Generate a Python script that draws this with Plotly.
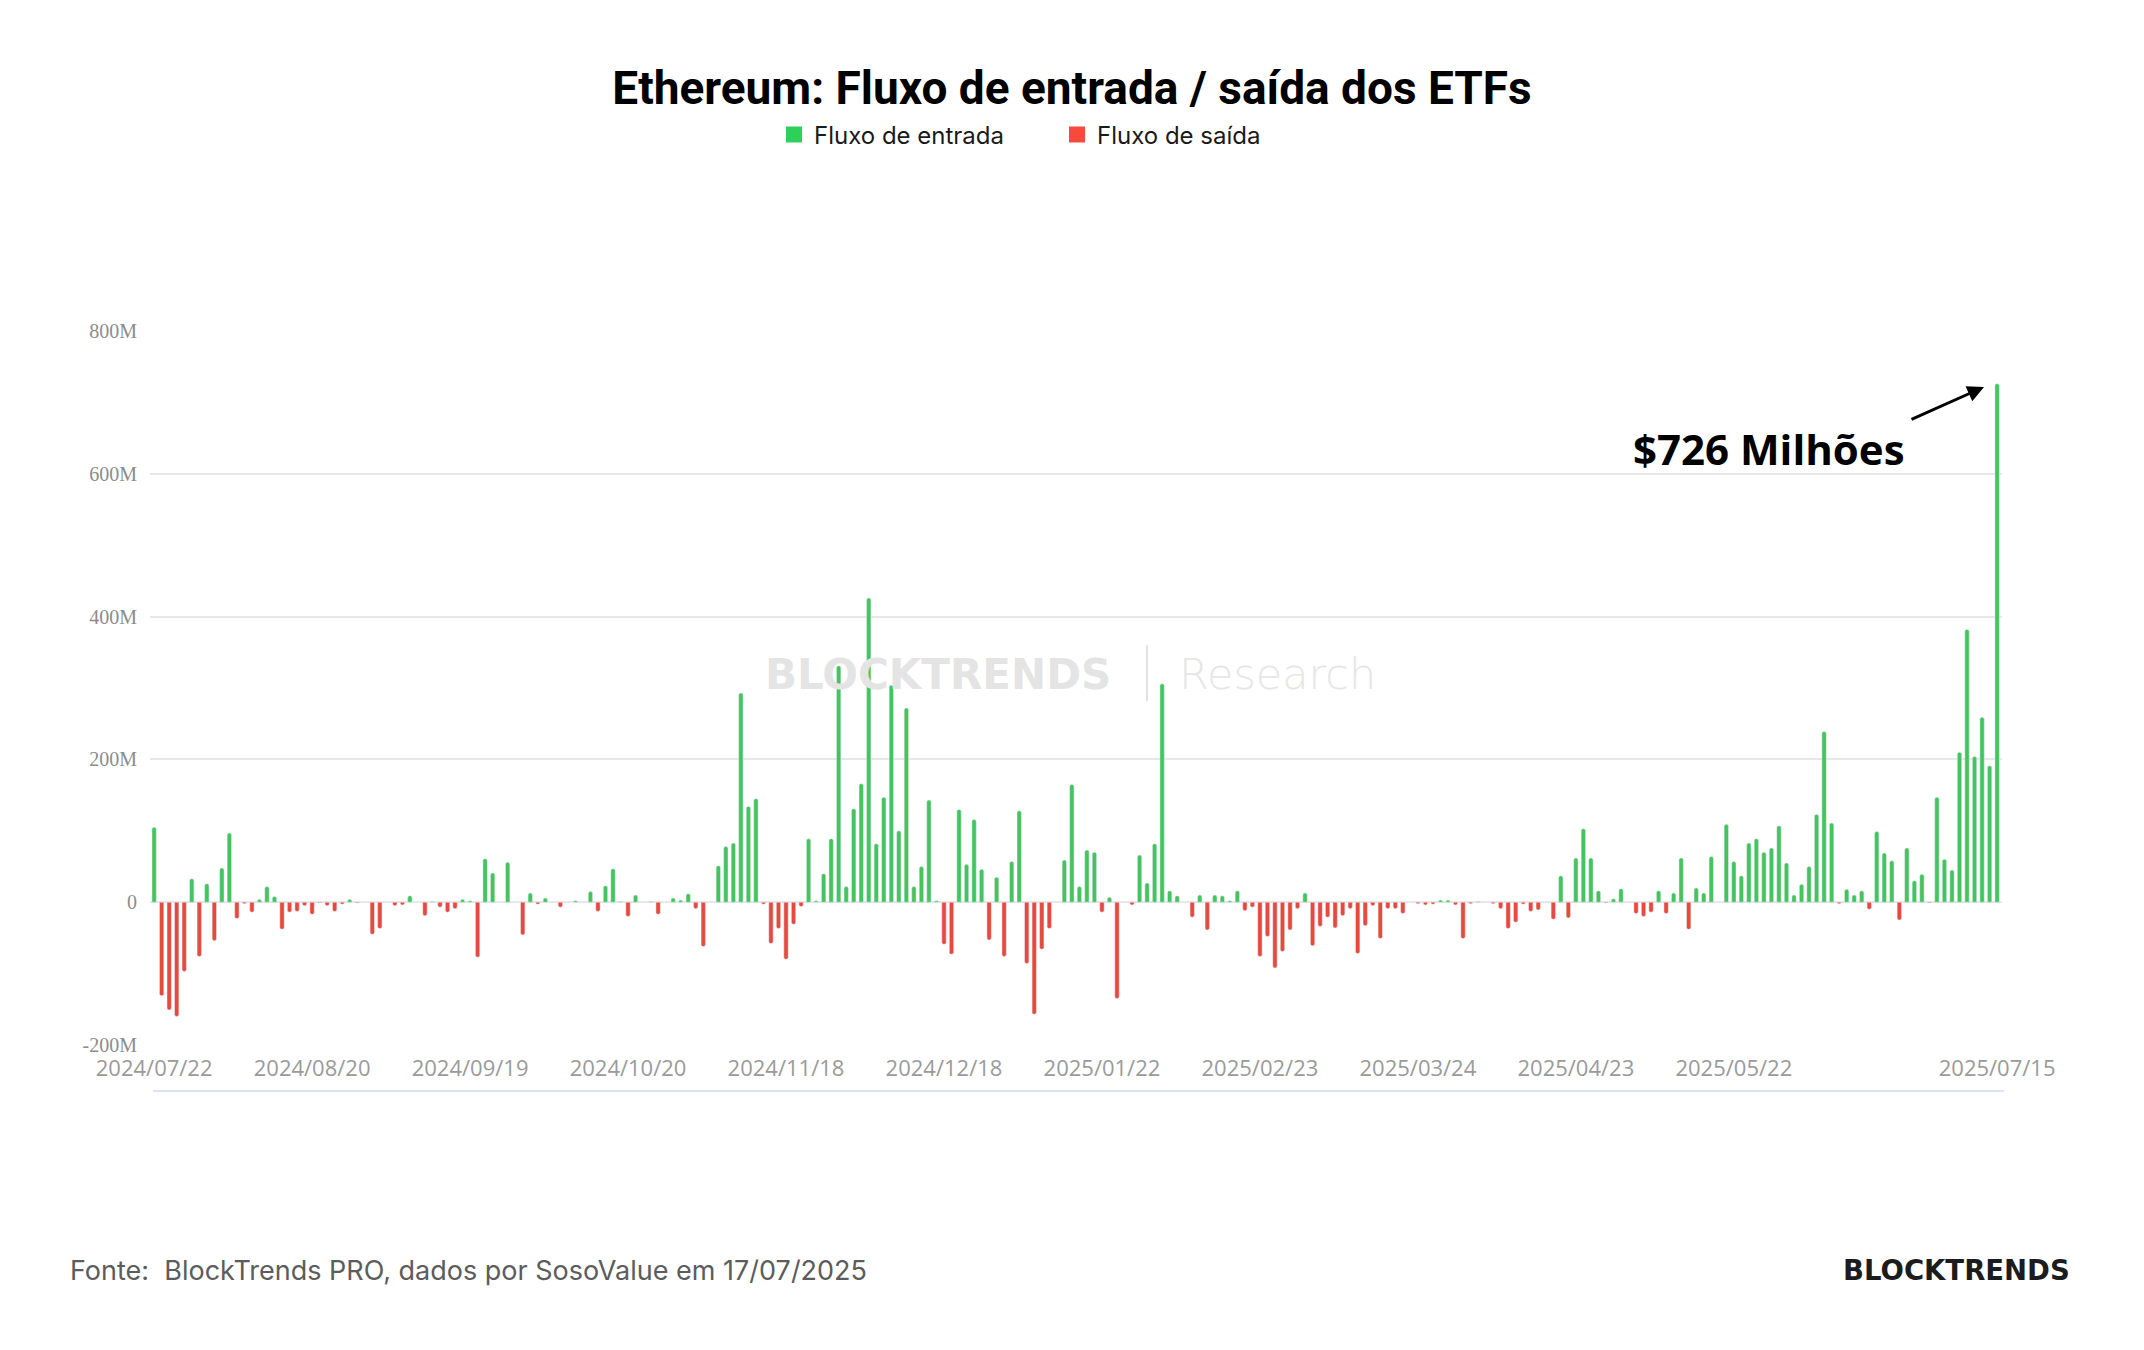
import pandas as pd
import plotly.graph_objects as go

# ---------------- data ----------------
TITLE = "Ethereum: Fluxo de entrada / saída dos ETFs"
SERIES_IN = "Fluxo de entrada"
SERIES_OUT = "Fluxo de saída"
SOURCE = "Fonte:  BlockTrends PRO, dados por SosoValue em 17/07/2025"
BRAND = "BLOCKTRENDS"
WATERMARK_SUB = "Research"
HIGHLIGHT = "$726 Milhões"

FIRST_DAY = "2024-07-23"
LAST_DAY = "2025-07-16"
HOLIDAYS = ["2024-09-02", "2024-11-28", "2024-12-25", "2025-01-01", "2025-01-09",
            "2025-01-20", "2025-02-17", "2025-04-18", "2025-05-26", "2025-06-19",
            "2025-07-04"]

# daily net flow, millions of USD
FLOWS_M = [
    105, -131, -151, -160, -97, 33, -76, 26, -54, 48,
    97, -23, -2, -14, 4, 22, 8, -38, -14, -13,
    -5, -17, -1, -5, -13, -3, 4, -1, 0, -45,
    -37, 0, -5, -4, 9, 0, -19, 1, -7, -14,
    -9, 4, 2, -77, 61, 41, 0, 56, 0, -46,
    13, -3, 6, 0, -7, 0, 2, 0, 15, -13,
    23, 47, 1, -20, 10, 0, 1, -17, 0, 6,
    3, 12, -9, -62, 0, 51, 78, 83, 293, 134,
    145, -3, -58, -37, -80, -31, -6, 89, 2, 40,
    89, 331, 22, 131, 166, 426, 82, 147, 304, 100,
    272, 22, 50, 143, 2, -59, -73, 130, 53, 116,
    46, -53, 35, -76, 57, 128, -86, -157, -66, -37,
    0, 59, 165, 22, 73, 70, -14, 7, -135, 0,
    -4, 66, 27, 82, 306, 16, 9, 0, -21, 10,
    -39, 10, 9, 2, 16, -12, -7, -76, -48, -92,
    -69, -39, -9, 13, -61, -34, -21, -36, -19, -9,
    -72, -33, -5, -51, -9, -9, -16, 0, -2, -4,
    -3, 3, 3, -4, -51, -2, 1, 0, -2, -9,
    -37, -28, -3, -13, -11, 0, -24, 37, -22, 62,
    103, 62, 16, -1, 5, 19, 0, -16, -20, -14,
    16, -16, 13, 62, -38, 20, 13, 64, 0, 109,
    57, 37, 83, 89, 70, 76, 107, 55, 10, 25,
    50, 123, 239, 111, -2, 18, 10, 16, -10, 99,
    69, 58, -25, 76, 30, 39, -1, 147, 60, 45,
    210, 382, 204, 259, 191, 726,
]

TICK_LABELS = ["2024/07/22", "2024/08/20", "2024/09/19", "2024/10/20", "2024/11/18",
               "2024/12/18", "2025/01/22", "2025/02/23", "2025/03/24", "2025/04/23",
               "2025/05/22", "2025/07/15"]
Y_TICKS = [-200, 0, 200, 400, 600, 800]
Y_TICK_TEXT = ["-200M", "0", "200M", "400M", "600M", "800M"]

# ---------------- build ----------------
days = pd.bdate_range(FIRST_DAY, LAST_DAY, freq="C", holidays=HOLIDAYS)
categories = [(d - pd.Timedelta(days=1)).strftime("%Y/%m/%d") for d in days]
assert len(categories) == len(FLOWS_M), (len(categories), len(FLOWS_M))

inflow = [v if v >= 0 else None for v in FLOWS_M]
outflow = [v if v < 0 else None for v in FLOWS_M]

GREEN_BAR = "#45c35e"
RED_BAR = "#e8493e"
GREEN_KEY = "#2fd05a"
RED_KEY = "#f7493d"

W, H = 2144, 1350
L, R, T, B = 150, 142, 331, 305
PW, PH = W - L - R, H - T - B


def px(x):
    return (x - L) / PW


def py(y):
    return (H - B - y) / PH


fig = go.Figure()
fig.add_trace(go.Bar(x=categories, y=inflow, marker=dict(color=GREEN_BAR, cornerradius=2),
                     width=0.58, showlegend=False, name=SERIES_IN))
fig.add_trace(go.Bar(x=categories, y=outflow, marker=dict(color=RED_BAR, cornerradius=2),
                     width=0.58, showlegend=False, name=SERIES_OUT))
# legend keys
fig.add_trace(go.Scatter(x=[None], y=[None], mode="markers", name=SERIES_IN,
                         marker=dict(symbol="square", size=16, color=GREEN_KEY)))
fig.add_trace(go.Scatter(x=[None], y=[None], mode="markers", name=SERIES_OUT,
                         marker=dict(symbol="square", size=16, color=RED_KEY)))

fig.update_layout(
    width=W, height=H,
    margin=dict(l=L, r=R, t=T, b=B),
    paper_bgcolor="white", plot_bgcolor="white",
    barmode="overlay",
    title=dict(text=TITLE, x=0.5, xanchor="center", xref="container",
               y=1 - 88 / H, yanchor="middle", yref="container",
               font=dict(family="Roboto, sans-serif", size=46, color="#000000", weight=700)),
    legend=dict(orientation="h", xref="container", yref="container",
                x=774 / W, xanchor="left", y=1 - 135 / H, yanchor="middle",
                font=dict(family="Inter, sans-serif", size=24, color="#1a1a1a"),
                itemclick=False, entrywidth=238, entrywidthmode="pixels",
                bgcolor="rgba(0,0,0,0)"),
    xaxis=dict(type="category", range=[-0.55, len(categories) - 0.35],
               tickmode="array", tickvals=TICK_LABELS, ticktext=TICK_LABELS,
               showgrid=False, zeroline=False, showline=False, ticks="",
               tickangle=0, ticklabelstandoff=8,
               tickfont=dict(family="Open Sans, sans-serif", size=22, color="#9a9a9a")),
    yaxis=dict(range=[-200, 800], tickmode="array", tickvals=Y_TICKS, ticktext=Y_TICK_TEXT,
               showgrid=True, gridcolor="#e7e7e7", gridwidth=1.5, zeroline=False,
               showline=False, ticks="", ticklabelstandoff=12,
               tickfont=dict(family="Liberation Serif, serif", size=20, color="#8c8c8c")),
    bargap=0.5,
)

annotations = [
    # watermark
    dict(text=BRAND, x=px(763), y=py(674), xanchor="left", yanchor="middle",
         font=dict(family="DejaVu Sans, sans-serif", size=42, color="#e4e4e4", weight=700)),
    dict(text=WATERMARK_SUB, x=px(1177), y=py(674), xanchor="left", yanchor="middle",
         font=dict(family="DejaVu Sans, sans-serif", size=43, color="#e6e6e6", weight=200)),
    # highlight label
    dict(text=HIGHLIGHT, x=px(1907), y=py(448), xanchor="right", yanchor="middle",
         font=dict(family="Open Sans, sans-serif", size=42, color="#000000", weight=700)),
    # arrow
    dict(text="", x=px(1984), y=py(387), ax=1910 - 1984, ay=420 - 387,
         showarrow=True, arrowhead=2, arrowsize=1.1, arrowwidth=3, arrowcolor="#000000",
         standoff=0),
    # footer
    dict(text=SOURCE, x=px(68), y=py(1270), xanchor="left", yanchor="middle",
         font=dict(family="Inter, sans-serif", size=27, color="#5c5c5c")),
    dict(text=BRAND, x=px(2072), y=py(1270), xanchor="right", yanchor="middle",
         font=dict(family="DejaVu Sans, sans-serif", size=27.5, color="#1c1c1e", weight=800)),
]
for a in annotations:
    a.setdefault("showarrow", False)
    a["xref"] = "paper"
    a["yref"] = "paper"
fig.update_layout(annotations=annotations)

fig.update_layout(shapes=[
    dict(type="line", xref="paper", yref="paper", x0=px(1147), x1=px(1147),
         y0=py(701), y1=py(645), line=dict(color="#e2e2e2", width=2)),
    dict(type="line", xref="paper", yref="paper", x0=px(153), x1=px(2004),
         y0=py(1091), y1=py(1091), line=dict(color="#d8e3f6", width=2)),
])

fig.write_html("out.html")
